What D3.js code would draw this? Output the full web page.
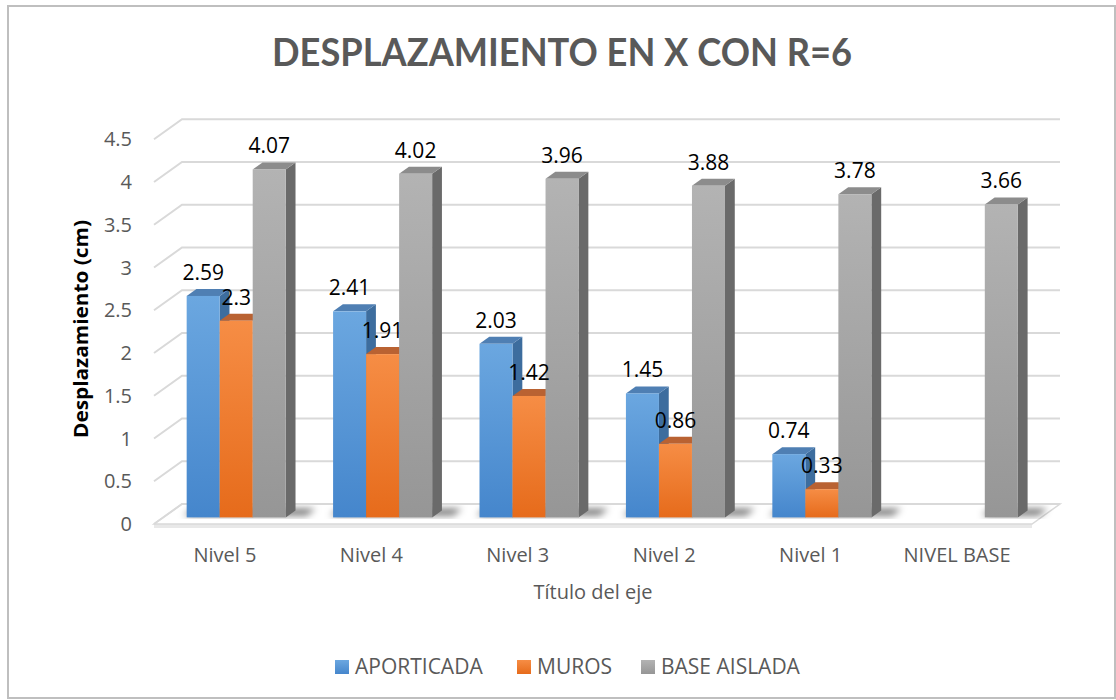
<!DOCTYPE html>
<html>
<head>
<meta charset="utf-8">
<script src="https://cdn.jsdelivr.net/npm/d3@7"></script>
<style>
  body { margin: 0; background: #fff; }
  svg { display: block; font-family: "Open Sans", "Noto Sans", sans-serif; }
</style>
</head>
<body>
<div id="chart"></div>
<script>
// data
const categories = ["Nivel 5", "Nivel 4", "Nivel 3", "Nivel 2", "Nivel 1", "NIVEL BASE"];
const seriesNames = ["APORTICADA", "MUROS", "BASE AISLADA"];
const aporticada = [2.59, 2.41, 2.03, 1.45, 0.74, null];
const muros = [2.3, 1.91, 1.42, 0.86, 0.33, null];
const baseAislada = [4.07, 4.02, 3.96, 3.88, 3.78, 3.66];
const yTicks = [0, 0.5, 1, 1.5, 2, 2.5, 3, 3.5, 4, 4.5];

const width = 1116, height = 700;
const DX = 28, DY = -20;          // depth offset of the 3d box
const D1 = 0.33, D2 = 0.68;       // bars sit between these depth fractions

let svg = d3.select("#chart").append("svg")
    .attr("width", width)
    .attr("height", height);

let defs = svg.append("defs");

// face colours: [top of front face, bottom of front face, side, cap]
const colors = {
  "APORTICADA":   ["#6ba7e0", "#4586cc", "#3d6d9e", "#4f7fb3"],
  "MUROS":        ["#f68d45", "#e66b1b", "#a9561f", "#b96232"],
  "BASE AISLADA": ["#b3b3b3", "#969696", "#6a6a6a", "#8c8c8c"]
};
seriesNames.forEach((s, i) => {
  let g = defs.append("linearGradient")
      .attr("id", "grad" + i)
      .attr("x1", 0).attr("y1", 0).attr("x2", 0).attr("y2", 1);
  g.append("stop").attr("offset", "0%").attr("stop-color", colors[s][0]);
  g.append("stop").attr("offset", "100%").attr("stop-color", colors[s][1]);
});
defs.append("filter").attr("id", "blur")
    .attr("x", "-50%").attr("y", "-50%").attr("width", "200%").attr("height", "200%")
  .append("feGaussianBlur").attr("stdDeviation", 3.5);

// outer border
svg.append("rect")
    .attr("x", 8).attr("y", 6)
    .attr("width", 1107).attr("height", 692)
    .attr("fill", "none")
    .attr("stroke", "#bfbfbf")
    .attr("stroke-width", 2);

// scales
let x = d3.scaleBand()
    .domain(categories)
    .range([154, 1032])
    .paddingInner(0.3235)
    .paddingOuter(0.16);

let xSub = d3.scaleBand()
    .domain(seriesNames)
    .range([0, x.bandwidth()]);

let y = d3.scaleLinear()
    .domain([0, 4.5])
    .range([524, 524 - 4.5 * 85.5]);

let pt = (px, v, d) => [px + d * DX, y(v) + d * DY];
let poly = pts => pts.map(p => p.join(",")).join(" ");

// floor
let x0 = 154, x1 = 1032;
svg.append("polygon")
    .attr("points", poly([[x0, y(0) + 4], [x1, y(0) + 4], [x1, y(0)], [x0, y(0)]]))
    .attr("fill", "#e8e8e8");
svg.append("polygon")
    .attr("points", poly([pt(x0, 0, 0), pt(x1, 0, 0), pt(x1, 0, 1), pt(x0, 0, 1)]))
    .attr("fill", "#fff")
    .attr("stroke", "#d9d9d9")
    .attr("stroke-width", 1.5);

// gridlines: left wall slant + back wall
let grid = svg.append("g");
yTicks.forEach(t => {
  grid.append("polyline")
      .attr("points", poly([pt(x0, t, 0), pt(x0, t, 1), pt(x1, t, 1)]))
      .attr("fill", "none")
      .attr("stroke", "#d9d9d9")
      .attr("stroke-width", 2);
});

// y tick labels
svg.append("g").selectAll("text")
    .data(yTicks)
    .enter()
    .append("text")
    .attr("x", 132)
    .attr("y", d => y(d) + 7)
    .style("text-anchor", "end")
    .style("font-size", "20px")
    .attr("fill", "#595959")
    .text(d => d);

// build bar records
let values = { "APORTICADA": aporticada, "MUROS": muros, "BASE AISLADA": baseAislada };
let bars = [];
categories.forEach((c, ci) => {
  seriesNames.forEach((s, si) => {
    let v = values[s][ci];
    if (v == null) return;
    bars.push({ cat: c, series: s, si: si, value: v, left: x(c) + xSub(s), w: xSub.bandwidth() });
  });
});

// shadows under each cluster
let shadows = svg.append("g").attr("filter", "url(#blur)");
categories.forEach(c => {
  let cb = bars.filter(b => b.cat == c);
  let l = d3.min(cb, b => b.left) - 6, r = d3.max(cb, b => b.left + b.w) + 18;
  shadows.append("polygon")
      .attr("points", poly([pt(l, 0, D1 + 0.1), pt(r, 0, D1 + 0.1), pt(r, 0, D2 + 0.08), pt(l, 0, D2 + 0.08)]))
      .attr("fill", "#000")
      .attr("opacity", 0.55);
});

// bars, drawn left to right so the next bar covers the previous side face
let barG = svg.append("g");
bars.forEach(b => {
  let g = barG.append("g");
  let l = b.left, r = b.left + b.w;
  // side
  g.append("polygon")
      .attr("points", poly([pt(r, 0, D1), pt(r, 0, D2), pt(r, b.value, D2), pt(r, b.value, D1)]))
      .attr("fill", colors[b.series][2]);
  // cap
  g.append("polygon")
      .attr("points", poly([pt(l, b.value, D1), pt(r, b.value, D1), pt(r, b.value, D2), pt(l, b.value, D2)]))
      .attr("fill", colors[b.series][3]);
  // front
  let p0 = pt(l, b.value, D1), p1 = pt(r, 0, D1);
  g.append("rect")
      .attr("x", p0[0])
      .attr("y", p0[1])
      .attr("width", p1[0] - p0[0])
      .attr("height", p1[1] - p0[1])
      .attr("fill", `url(#grad${b.si})`);
});

// data labels
svg.append("g").selectAll("text")
    .data(bars)
    .enter()
    .append("text")
    .attr("x", d => pt(d.left + d.w / 2, d.value, D1)[0])
    .attr("y", d => pt(d.left, d.value, D1)[1] - 16)
    .style("text-anchor", "middle")
    .style("font-size", "21px")
    .attr("fill", "#000")
    .text(d => d.value);

// category labels
svg.append("g").selectAll("text")
    .data(categories)
    .enter()
    .append("text")
    .attr("x", d => x(d) + x.bandwidth() / 2 - 2)
    .attr("y", 562)
    .style("text-anchor", "middle")
    .style("font-size", "20px")
    .attr("fill", "#595959")
    .text(d => d);

// axis titles
svg.append("text")
    .attr("x", (x0 + x1) / 2)
    .attr("y", 599)
    .style("text-anchor", "middle")
    .style("font-size", "20px")
    .attr("fill", "#595959")
    .text("Título del eje");

svg.append("text")
    .attr("transform", "translate(88, 329) rotate(-90)")
    .style("text-anchor", "middle")
    .style("font-size", "20px")
    .style("font-weight", "bold")
    .attr("fill", "#000")
    .attr("textLength", 218)
    .attr("lengthAdjust", "spacingAndGlyphs")
    .text("Desplazamiento (cm)");

// chart title
svg.append("text")
    .attr("x", 562)
    .attr("y", 66)
    .style("text-anchor", "middle")
    .style("font-size", "38px")
    .style("font-weight", "bold")
    .style("font-family", "Lato, 'Open Sans', sans-serif")
    .attr("fill", "#595959")
    .attr("textLength", 580)
    .attr("lengthAdjust", "spacingAndGlyphs")
    .text("DESPLAZAMIENTO EN X CON R=6");

// legend
const legendX = [335, 517, 641];
let legend = svg.append("g");
seriesNames.forEach((s, i) => {
  legend.append("rect")
      .attr("x", legendX[i]).attr("y", 660)
      .attr("width", 14).attr("height", 14)
      .attr("fill", `url(#grad${i})`);
  legend.append("text")
      .attr("x", legendX[i] + 20)
      .attr("y", 674)
      .style("font-size", "21px")
      .attr("fill", "#595959")
      .text(s);
});
</script>
</body>
</html>
